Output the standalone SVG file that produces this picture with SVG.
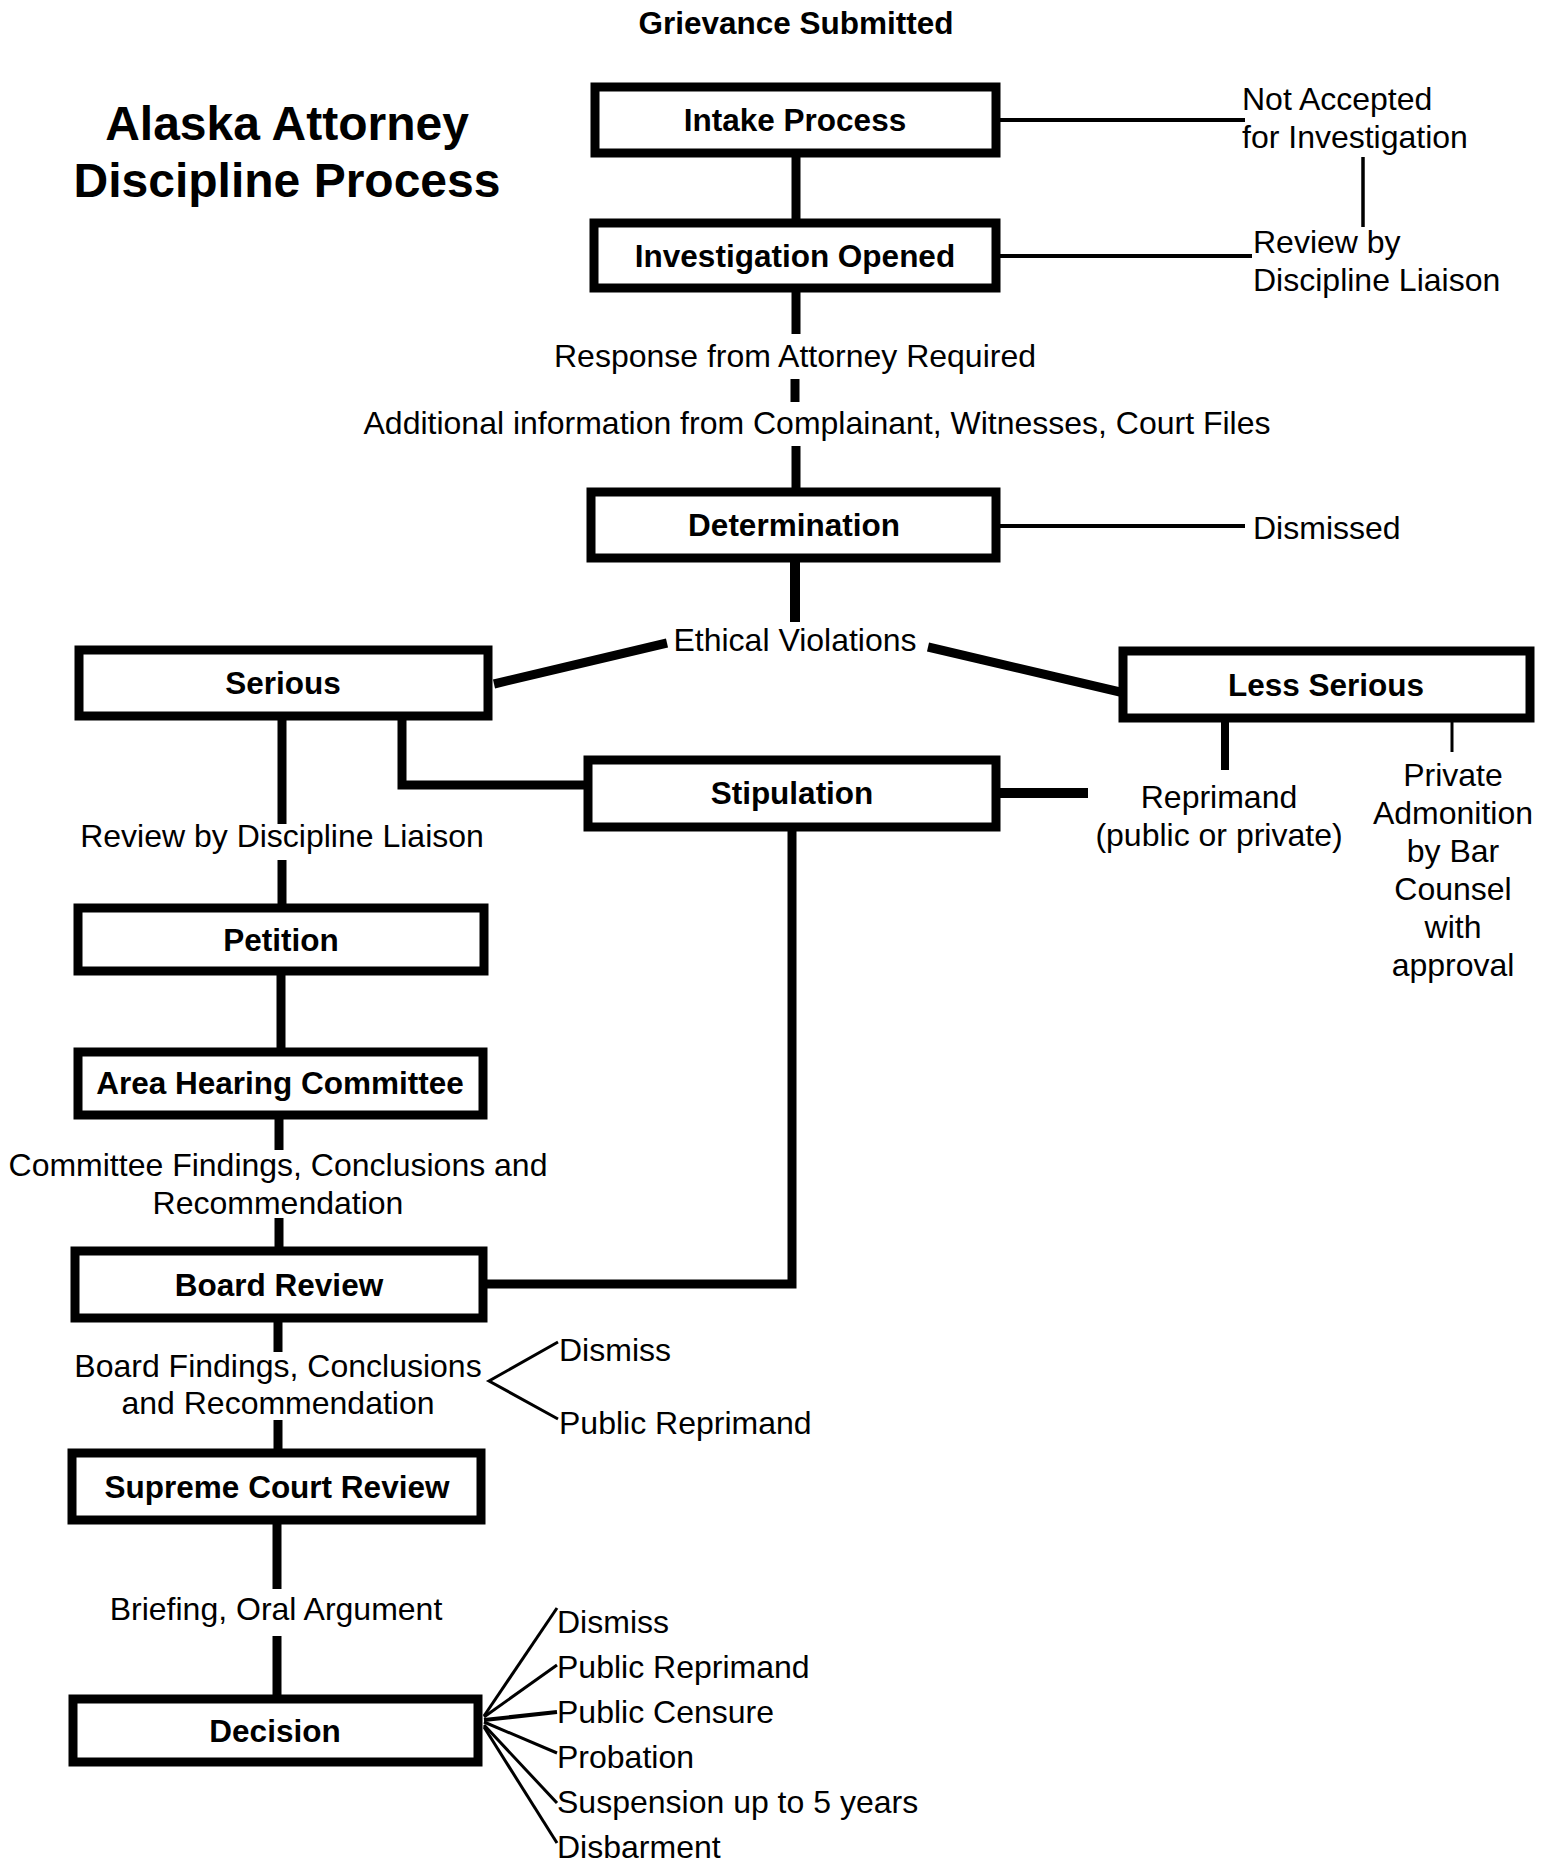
<svg xmlns="http://www.w3.org/2000/svg" width="1550" height="1862" viewBox="0 0 1550 1862">
<style>
.box{fill:#fff;stroke:#000;stroke-width:9}
.bt{font-family:"Liberation Sans",Arial,sans-serif;font-weight:bold;font-size:31.5px;text-anchor:middle;fill:#000}
.t{font-family:"Liberation Sans",Arial,sans-serif;font-size:32px;fill:#000}
.m{text-anchor:middle}
.title{font-family:"Liberation Sans",Arial,sans-serif;font-weight:bold;font-size:48px;text-anchor:middle;fill:#000}
.c{fill:none;stroke:#000;stroke-width:9}
.n{fill:none;stroke:#000;stroke-width:4}
.f{fill:none;stroke:#000;stroke-width:3}
</style>
<rect width="1550" height="1862" fill="#fff"/>
<g id="title">
<text class="title" x="287" y="140">Alaska Attorney</text>
<text class="title" x="287" y="197">Discipline Process</text>
</g>
<g id="connectors">
<path class="c" d="M796,157V219"/>
<path class="c" d="M796,292V334"/>
<path class="c" d="M795,379V402"/>
<path class="c" d="M796,446V488"/>
<path class="c" d="M795,562V622" style="stroke-width:10"/>
<path class="n" d="M1000,120H1245"/>
<path class="f" d="M1363,157V227" style="stroke-width:3.5"/>
<path class="n" d="M1000,256H1252"/>
<path class="n" d="M1000,526H1245"/>
<path class="c" d="M494,684L667,643"/>
<path class="c" d="M928,647L1120,692"/>
<path class="c" d="M282,720V824"/>
<path class="c" d="M282,860V904"/>
<path class="c" d="M402,720V785H584"/>
<path class="c" d="M1000,793H1088" style="stroke-width:10"/>
<path class="c" d="M1225,722V770" style="stroke-width:8"/>
<path class="f" d="M1452,722V752"/>
<path class="c" d="M281,975V1048"/>
<path class="c" d="M279,1119V1150"/>
<path class="c" d="M279,1218V1247"/>
<path class="c" d="M487,1284H792V831"/>
<path class="c" d="M278,1322V1352"/>
<path class="c" d="M278,1420V1449"/>
<path class="f" d="M558,1342L489,1381L558,1419"/>
<path class="c" d="M277,1524V1589"/>
<path class="c" d="M277,1636V1695"/>
<path class="f" d="M484,1716L557,1608"/>
<path class="f" d="M484,1717L557,1665"/>
<path class="f" d="M484,1720L557,1712" style="stroke-width:4"/>
<path class="f" d="M484,1722L557,1753"/>
<path class="f" d="M484,1725L557,1803"/>
<path class="f" d="M484,1727L557,1843"/>
</g>
<g id="labels">
<text class="bt" x="796" y="34">Grievance Submitted</text>
<text class="t" x="1242" y="110">Not Accepted</text>
<text class="t" x="1242" y="148">for Investigation</text>
<text class="t" x="1253" y="253">Review by</text>
<text class="t" x="1253" y="291">Discipline Liaison</text>
<text class="t m" x="795" y="367">Response from Attorney Required</text>
<text class="t m" x="817" y="434">Additional information from Complainant, Witnesses, Court Files</text>
<text class="t" x="1253" y="539">Dismissed</text>
<text class="t m" x="795" y="651">Ethical Violations</text>
<text class="t m" x="282" y="847">Review by Discipline Liaison</text>
<text class="t m" x="1219" y="808">Reprimand</text>
<text class="t m" x="1219" y="846">(public or private)</text>
<text class="t m" x="1453" y="786">Private</text>
<text class="t m" x="1453" y="824">Admonition</text>
<text class="t m" x="1453" y="862">by Bar</text>
<text class="t m" x="1453" y="900">Counsel</text>
<text class="t m" x="1453" y="938">with</text>
<text class="t m" x="1453" y="976">approval</text>
<text class="t m" x="278" y="1176">Committee Findings, Conclusions and</text>
<text class="t m" x="278" y="1214">Recommendation</text>
<text class="t m" x="278" y="1377">Board Findings, Conclusions</text>
<text class="t m" x="278" y="1414">and Recommendation</text>
<text class="t" x="559" y="1361">Dismiss</text>
<text class="t" x="559" y="1434">Public Reprimand</text>
<text class="t m" x="276" y="1620">Briefing, Oral Argument</text>
<text class="t" x="557" y="1633">Dismiss</text>
<text class="t" x="557" y="1678">Public Reprimand</text>
<text class="t" x="557" y="1723">Public Censure</text>
<text class="t" x="557" y="1768">Probation</text>
<text class="t" x="557" y="1813">Suspension up to 5 years</text>
<text class="t" x="557" y="1858">Disbarment</text>
</g>
<g id="intake"><rect class="box" x="595" y="87" width="401" height="66"/><text class="bt" x="795" y="131">Intake Process</text></g>
<g id="investigation"><rect class="box" x="594" y="223" width="402" height="65"/><text class="bt" x="795" y="267">Investigation Opened</text></g>
<g id="determination"><rect class="box" x="591" y="492" width="405" height="66"/><text class="bt" x="794" y="536">Determination</text></g>
<g id="serious"><rect class="box" x="79" y="650" width="409" height="66"/><text class="bt" x="283" y="694">Serious</text></g>
<g id="less-serious"><rect class="box" x="1123" y="651" width="407" height="67"/><text class="bt" x="1326" y="696">Less Serious</text></g>
<g id="stipulation"><rect class="box" x="588" y="760" width="408" height="67"/><text class="bt" x="792" y="804">Stipulation</text></g>
<g id="petition"><rect class="box" x="78" y="908" width="406" height="63"/><text class="bt" x="281" y="951">Petition</text></g>
<g id="area-hearing"><rect class="box" x="78" y="1052" width="405" height="63"/><text class="bt" x="280" y="1094">Area Hearing Committee</text></g>
<g id="board-review"><rect class="box" x="75" y="1251" width="408" height="67"/><text class="bt" x="279" y="1296">Board Review</text></g>
<g id="supreme-court"><rect class="box" x="72" y="1453" width="409" height="67"/><text class="bt" x="277" y="1498">Supreme Court Review</text></g>
<g id="decision"><rect class="box" x="73" y="1699" width="405" height="63"/><text class="bt" x="275" y="1742">Decision</text></g>
</svg>
